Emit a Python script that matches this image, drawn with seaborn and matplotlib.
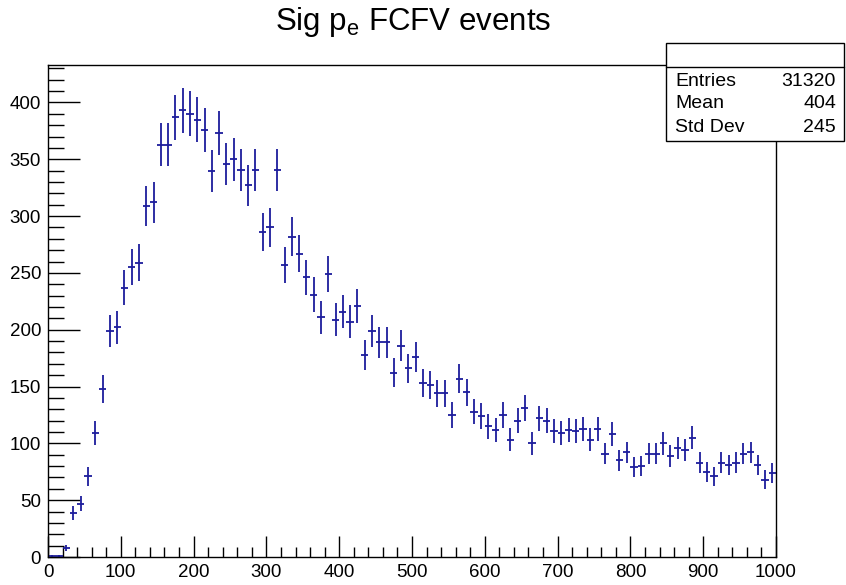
import numpy as np
import seaborn as sns
import matplotlib.pyplot as plt
from matplotlib.ticker import MultipleLocator
from matplotlib.patches import Rectangle

# bin contents (100 bins of width 10)
bin_centers = np.arange(5, 1000, 10)
counts = [
    1, 1, 8, 39, 47, 71, 109, 148, 199, 202,
    237, 255, 259, 309, 312, 363, 363, 387, 393, 390,
    385, 376, 340, 373, 346, 350, 341, 327, 341, 286,
    290, 341, 257, 282, 267, 246, 231, 211, 249, 209,
    216, 207, 221, 178, 199, 189, 189, 162, 186, 166,
    176, 153, 151, 144, 144, 125, 157, 145, 128, 124,
    115, 112, 125, 103, 120, 131, 100, 122, 120, 111,
    109, 112, 111, 113, 103, 113, 91, 108, 85, 92,
    79, 80, 91, 91, 100, 89, 96, 94, 105, 83,
    75, 71, 83, 81, 83, 91, 92, 81, 68, 74,
]
stat_labels = ["Entries", "Mean", "Std Dev"]
stat_values = ["31320", "404", "245"]

sns.set_style("white")
plt.rcParams['font.family'] = ['Liberation Sans', 'DejaVu Sans']
plt.rcParams['text.color'] = 'black'

fig = plt.figure(figsize=(8.46, 5.85), dpi=100)
ax = fig.add_axes([48 / 846, 1 - 557 / 585, 728 / 846, (557 - 65) / 585])

y = np.array(counts, dtype=float)
ax.errorbar(bin_centers, y, xerr=5, yerr=np.sqrt(y), fmt='none',
            ecolor='#1c1c9c', elinewidth=1.3, capsize=0)

ax.set_xlim(0, 1000)
ax.set_ylim(0, 433)
ax.xaxis.set_major_locator(MultipleLocator(100))
ax.xaxis.set_minor_locator(MultipleLocator(20))
ax.yaxis.set_major_locator(MultipleLocator(50))
ax.yaxis.set_minor_locator(MultipleLocator(10))
ax.tick_params(axis='both', which='both', direction='in', colors='black',
               labelcolor='black', labelsize=13.5, width=1,
               bottom=True, left=True, top=False, right=False)
ax.tick_params(axis='x', which='major', length=15, pad=5)
ax.tick_params(axis='x', which='minor', length=7.5)
ax.tick_params(axis='y', which='major', length=23, pad=5)
ax.tick_params(axis='y', which='minor', length=11.5)
for s in ax.spines.values():
    s.set_color('black')
    s.set_linewidth(1)

fig.text(413 / 846, 1 - 22 / 585, r"Sig p$_\mathregular{e}$ FCFV events",
         ha='center', va='center', fontsize=22.5, color='black')

# stats box
box = Rectangle((666 / 846, 1 - 141 / 585), 178 / 846, 98 / 585,
                transform=fig.transFigure, facecolor='white',
                edgecolor='black', linewidth=1, zorder=5)
fig.patches.append(box)
fig.lines.append(plt.Line2D([666 / 846, 844 / 846], [1 - 67 / 585, 1 - 67 / 585],
                            transform=fig.transFigure, color='black', linewidth=1, zorder=6))
for i, (lab, val) in enumerate(zip(stat_labels, stat_values)):
    yy = 1 - (81 + 23 * i) / 585
    fig.text(675 / 846, yy, lab, ha='left', va='center', fontsize=14, zorder=7)
    fig.text(836 / 846, yy, val, ha='right', va='center', fontsize=14, zorder=7)

fig.savefig('out.png', dpi=100)
